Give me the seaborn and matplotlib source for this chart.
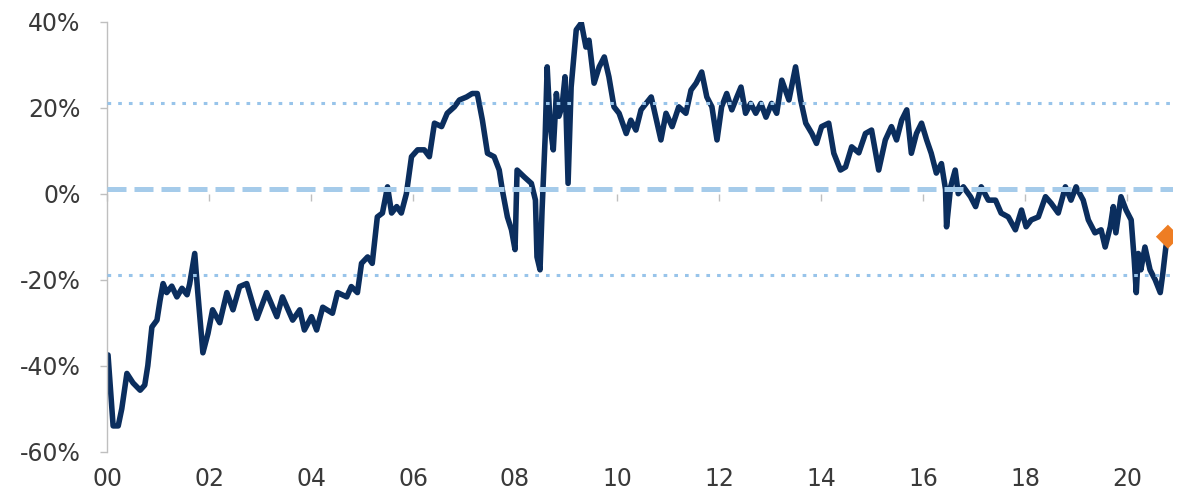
import matplotlib
matplotlib.use("Agg")
import matplotlib.pyplot as plt
import seaborn as sns
import pandas as pd
from matplotlib.ticker import FuncFormatter

# ---- data ----
years = [
    2000.02, 2000.12, 2000.22, 2000.29, 2000.39, 2000.51, 2000.65, 2000.74, 2000.80, 2000.88,
    2000.98, 2001.04, 2001.10, 2001.17, 2001.27, 2001.37, 2001.47, 2001.57, 2001.62, 2001.72,
    2001.78, 2001.88, 2001.98, 2002.07, 2002.21, 2002.35, 2002.47, 2002.60, 2002.74, 2002.94,
    2003.13, 2003.33, 2003.44, 2003.64, 2003.78, 2003.87, 2004.01, 2004.11, 2004.23, 2004.42,
    2004.52, 2004.70, 2004.79, 2004.91, 2004.99, 2005.11, 2005.20, 2005.30, 2005.40, 2005.50,
    2005.58, 2005.68, 2005.77, 2005.87, 2005.97, 2006.09, 2006.22, 2006.32, 2006.42, 2006.56,
    2006.67, 2006.81, 2006.91, 2007.05, 2007.16, 2007.26, 2007.36, 2007.46, 2007.59, 2007.69,
    2007.75, 2007.85, 2007.93, 2008.00, 2008.04, 2008.18, 2008.32, 2008.40, 2008.43, 2008.49,
    2008.53, 2008.59, 2008.63, 2008.69, 2008.75, 2008.81, 2008.86, 2008.92, 2008.98, 2009.04,
    2009.10, 2009.20, 2009.30, 2009.39, 2009.45, 2009.55, 2009.65, 2009.75, 2009.84, 2009.94,
    2010.04, 2010.18, 2010.27, 2010.37, 2010.47, 2010.57, 2010.67, 2010.76, 2010.86, 2010.96,
    2011.08, 2011.21, 2011.35, 2011.45, 2011.55, 2011.66, 2011.76, 2011.86, 2011.96, 2012.05,
    2012.15, 2012.25, 2012.35, 2012.43, 2012.52, 2012.62, 2012.72, 2012.82, 2012.92, 2013.03,
    2013.13, 2013.23, 2013.37, 2013.50, 2013.60, 2013.70, 2013.82, 2013.91, 2014.01, 2014.15,
    2014.25, 2014.38, 2014.48, 2014.60, 2014.74, 2014.87, 2014.99, 2015.13, 2015.26, 2015.38,
    2015.48, 2015.58, 2015.68, 2015.77, 2015.87, 2015.97, 2016.07, 2016.16, 2016.26, 2016.36,
    2016.44, 2016.46, 2016.54, 2016.63, 2016.69, 2016.79, 2016.93, 2017.03, 2017.14, 2017.28,
    2017.42, 2017.53, 2017.67, 2017.81, 2017.93, 2018.02, 2018.12, 2018.26, 2018.40, 2018.51,
    2018.65, 2018.79, 2018.90, 2019.00, 2019.14, 2019.24, 2019.37, 2019.49, 2019.57, 2019.67,
    2019.73, 2019.78, 2019.88, 2019.98, 2020.08, 2020.14, 2020.18, 2020.22, 2020.27, 2020.35,
    2020.45, 2020.55, 2020.65, 2020.70, 2020.76, 2020.80,
]
spread = [
    -37.5, -54.0, -54.0, -50.0, -41.8, -44.0, -45.7, -44.5, -40.0, -31.0,
    -29.4, -24.8, -20.9, -23.0, -21.5, -24.0, -22.0, -23.5, -21.0, -13.9,
    -23.0, -37.0, -32.5, -27.0, -30.0, -23.0, -27.0, -21.6, -20.9, -29.0,
    -23.0, -28.6, -24.0, -29.4, -27.0, -31.7, -28.6, -31.7, -26.4, -27.8,
    -23.0, -24.0, -21.6, -23.0, -16.2, -14.7, -16.2, -5.4, -4.5, 1.6,
    -4.5, -3.0, -4.5, 0.0, 8.6, 10.2, 10.2, 8.6, 16.4, 15.6,
    18.7, 20.2, 21.8, 22.5, 23.3, 23.3, 17.1, 9.4, 8.6, 5.5,
    0.9, -5.4, -8.4, -13.0, 5.5, 3.9, 2.4, -1.5, -14.7, -17.7,
    -3.8, 13.0, 29.5, 15.6, 10.2, 23.3, 18.0, 20.2, 27.2, 2.4,
    24.8, 38.1, 39.7, 34.1, 35.7, 25.7, 29.5, 31.8, 27.2, 20.2,
    18.7, 14.0, 17.1, 14.8, 19.5, 21.0, 22.5, 17.8, 12.5, 18.7,
    15.6, 20.2, 18.7, 24.1, 25.7, 28.3, 22.5, 20.2, 12.5, 20.2,
    23.3, 19.5, 22.5, 24.8, 18.7, 21.0, 18.7, 21.0, 17.8, 21.0,
    18.7, 26.4, 21.8, 29.5, 21.8, 16.4, 14.0, 11.7, 15.6, 16.4,
    9.4, 5.5, 6.2, 10.9, 9.5, 14.0, 14.8, 5.5, 12.5, 15.6,
    12.5, 17.1, 19.5, 9.4, 14.0, 16.4, 12.5, 9.4, 4.8, 7.0,
    1.0, -7.7, 1.6, 5.5, 0.0, 1.6, -0.7, -3.0, 1.6, -1.5,
    -1.5, -4.5, -5.4, -8.4, -3.8, -7.7, -6.1, -5.4, -0.7, -2.2,
    -4.5, 1.6, -1.5, 1.6, -1.5, -6.1, -9.1, -8.4, -12.4, -7.7,
    -3.0, -9.1, -0.7, -3.8, -6.1, -15.4, -23.0, -13.9, -17.7, -12.4,
    -17.7, -20.0, -23.0, -18.6, -12.4, -10.0,
]
avg_level = 1.0
upper_band = 21.0
lower_band = -19.0
y_ticks = [-60, -40, -20, 0, 20, 40]
x_tick_years = [2000, 2002, 2004, 2006, 2008, 2010, 2012, 2014, 2016, 2018, 2020]
x_tick_labels = ["00", "02", "04", "06", "08", "10", "12", "14", "16", "18", "20"]

# ---- style ----
sns.set_theme(style="white")
plt.rcParams["font.family"] = ["DejaVu Sans"]

LINE = "#0B2E5E"
REF_DASH = "#A5CBEA"
REF_DOT = "#98C4EA"
ORANGE = "#EE7D23"
TXT = "#3A3A3A"
AXC = "#BFBFBF"

fig = plt.figure(figsize=(11.77, 4.9), dpi=100)
ax = fig.add_axes([107 / 1177, 38.3 / 490, (1173 - 107) / 1177, (451.7 - 21.7) / 490])

df = pd.DataFrame({"year": years, "spread": spread})
sns.lineplot(data=df, x="year", y="spread", ax=ax, color=LINE, linewidth=4.0,
             zorder=2, legend=False)

ax.axhline(avg_level, color=REF_DASH, lw=3.6, dashes=(3.8, 1.6), zorder=3)
ax.axhline(upper_band, color=REF_DOT, lw=2.2, dashes=(1.2, 2.3), zorder=3)
ax.axhline(lower_band, color=REF_DOT, lw=2.2, dashes=(1.2, 2.3), zorder=3)

sns.scatterplot(x=[years[-1]], y=[spread[-1]], ax=ax, marker="D", s=150,
                color=ORANGE, edgecolor="none", zorder=5, legend=False)

ax.set_xlim(2000, 2020.9)
ax.set_ylim(-60, 40)
ax.set_xlabel("")
ax.set_ylabel("")

for s in ["top", "right"]:
    ax.spines[s].set_visible(False)
ax.spines["left"].set_color(AXC)
ax.spines["left"].set_linewidth(1.0)
ax.spines["bottom"].set_position(("data", 0))
ax.spines["bottom"].set_visible(False)

ax.set_xticks(x_tick_years)
ax.tick_params(axis="x", bottom=True, length=5, width=1, color=AXC,
               direction="out", labelbottom=False)
ax.set_yticks(y_ticks)
ax.yaxis.set_major_formatter(FuncFormatter(lambda v, p: f"{v:.0f}%"))
ax.tick_params(axis="y", left=True, length=5, width=1, color=AXC, direction="out",
               pad=14, labelsize=17, labelcolor=TXT)

sec = ax.secondary_xaxis("bottom")
sec.set_xticks(x_tick_years, labels=x_tick_labels)
sec.tick_params(axis="x", length=0, pad=11, labelsize=17, labelcolor=TXT)
sec.spines["bottom"].set_visible(False)

fig.savefig("out.png", dpi=100, facecolor="white")
